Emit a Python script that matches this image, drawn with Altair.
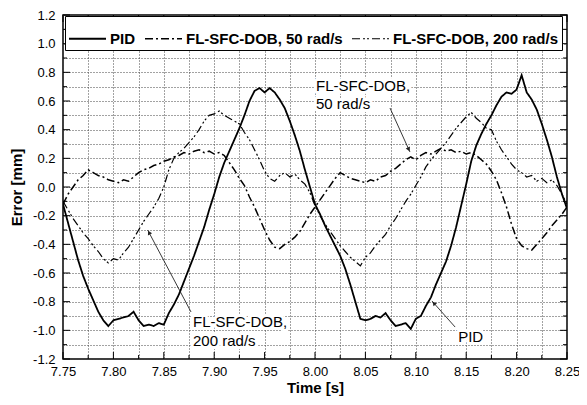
import math
import altair as alt
import pandas as pd

# ---------------- data ----------------
SERIES = ["PID", "FL-SFC-DOB, 50 rad/s", "FL-SFC-DOB, 200 rad/s"]

time_s = [round(7.75 + 0.005 * i, 3) for i in range(101)]

pid = [
    -0.12, -0.25, -0.38, -0.51, -0.62, -0.71, -0.79, -0.87, -0.93, -0.97,
    -0.93, -0.92, -0.91, -0.90, -0.87, -0.93, -0.97, -0.96, -0.97, -0.95,
    -0.96, -0.88, -0.82, -0.75, -0.66, -0.57, -0.48, -0.38, -0.28, -0.16,
    -0.05, 0.07, 0.17, 0.25, 0.33, 0.41, 0.50, 0.60, 0.67, 0.69,
    0.66, 0.69, 0.66, 0.61, 0.55, 0.46, 0.36, 0.25, 0.12, 0.00,
    -0.12, -0.19, -0.27, -0.34, -0.41, -0.48, -0.57, -0.68, -0.80, -0.92,
    -0.93, -0.92, -0.90, -0.91, -0.88, -0.93, -0.97, -0.96, -0.95, -0.99,
    -0.92, -0.90, -0.83, -0.77, -0.68, -0.60, -0.52, -0.41, -0.28, -0.13,
    0.02, 0.18, 0.29, 0.37, 0.44, 0.50, 0.57, 0.63, 0.66, 0.65,
    0.68, 0.78, 0.66, 0.61, 0.54, 0.44, 0.33, 0.21, 0.07, -0.05,
    -0.15,
]

dob50 = [
    -0.12, -0.05, 0.00, 0.05, 0.08, 0.12, 0.10, 0.08, 0.07, 0.05,
    0.04, 0.03, 0.05, 0.04, 0.07, 0.10, 0.12, 0.13, 0.15, 0.16,
    0.18, 0.19, 0.21, 0.22, 0.24, 0.23, 0.25, 0.26, 0.24, 0.25,
    0.23, 0.24, 0.22, 0.17, 0.12, 0.06, 0.01, -0.07, -0.14, -0.22,
    -0.30, -0.37, -0.42, -0.43, -0.40, -0.38, -0.35, -0.31, -0.25, -0.19,
    -0.14, -0.09, -0.04, 0.01, 0.06, 0.10, 0.08, 0.06, 0.05, 0.04,
    0.03, 0.05, 0.04, 0.07, 0.08, 0.11, 0.13, 0.16, 0.19, 0.21,
    0.19, 0.22, 0.24, 0.23, 0.25, 0.27, 0.25, 0.26, 0.24, 0.25,
    0.23, 0.24, 0.22, 0.19, 0.16, 0.11, 0.05, -0.04, -0.14, -0.26,
    -0.36, -0.41, -0.43, -0.44, -0.40, -0.36, -0.32, -0.27, -0.23, -0.19,
    -0.14,
]

dob200 = [
    -0.10, -0.16, -0.22, -0.27, -0.32, -0.36, -0.41, -0.45, -0.50, -0.53,
    -0.50, -0.51, -0.46, -0.42, -0.36, -0.30, -0.24, -0.19, -0.14, -0.08,
    0.00, 0.12, 0.20, 0.24, 0.27, 0.31, 0.35, 0.40, 0.46, 0.50,
    0.51, 0.53, 0.50, 0.48, 0.46, 0.44, 0.38, 0.33, 0.26, 0.19,
    0.11, 0.06, 0.04, 0.08, 0.10, 0.07, 0.09, 0.05, 0.02, -0.04,
    -0.13, -0.20, -0.26, -0.31, -0.36, -0.41, -0.45, -0.49, -0.52, -0.55,
    -0.49, -0.46, -0.41, -0.37, -0.33, -0.27, -0.22, -0.16, -0.10, -0.05,
    0.01, 0.07, 0.14, 0.19, 0.23, 0.27, 0.31, 0.36, 0.41, 0.45,
    0.49, 0.52, 0.48, 0.45, 0.41, 0.40, 0.32, 0.26, 0.21, 0.16,
    0.12, 0.10, 0.07, 0.08, 0.04, 0.06, 0.03, 0.05, 0.01, -0.05,
    -0.12,
]

x_ticks_major = [7.75, 7.80, 7.85, 7.90, 7.95, 8.00, 8.05, 8.10, 8.15, 8.20, 8.25]
x_ticks_minor = [7.775, 7.825, 7.875, 7.925, 7.975, 8.025, 8.075, 8.125, 8.175, 8.225]
y_ticks_major = [-1.2, -1.0, -0.8, -0.6, -0.4, -0.2, 0.0, 0.2, 0.4, 0.6, 0.8, 1.0, 1.2]
y_ticks_minor = [-1.1, -0.9, -0.7, -0.5, -0.3, -0.1, 0.1, 0.3, 0.5, 0.7, 0.9, 1.1]

ann_text = ["FL-SFC-DOB,", "50 rad/s", "FL-SFC-DOB,", "200 rad/s", "PID"]
ann_t = [8.001, 8.001, 7.879, 7.879, 8.142]
ann_e = [0.670, 0.544, -0.977, -1.109, -1.081]

arrow_t_tail = [8.0744, 7.877, 8.139]
arrow_e_tail = [0.551, -0.872, -0.977]
arrow_t_head = [8.0942, 7.834, 8.116]
arrow_e_head = [0.244, -0.300, -0.795]

# ---------------- layout ----------------
W, H = 504, 344
T0, T1 = 7.75, 8.25
E0, E1 = -1.2, 1.2
PX_T = W / (T1 - T0)
PX_E = H / (E1 - E0)
FONT = "Liberation Sans"

rows = []
for name, vals in zip(SERIES, [pid, dob50, dob200]):
    for t, e in zip(time_s, vals):
        rows.append({"t": t, "e": e, "series": name})
df = pd.DataFrame(rows)

xscale = alt.Scale(domain=[T0, T1], nice=False, zero=False)
yscale = alt.Scale(domain=[E0, E1], nice=False, zero=False)

x_vals = sorted(x_ticks_major + x_ticks_minor)
y_vals = sorted(y_ticks_major + y_ticks_minor)

xaxis = alt.Axis(
    values=x_vals,
    labelExpr="abs(round(datum.value*1000) % 50) == 0 ? format(datum.value, '.2f') : ''",
    title="Time [s]", titleFontSize=15, titleFontWeight="bold", titleColor="black",
    titleFont=FONT, titleBaseline="alphabetic", titleY=33,
    labelFont=FONT, labelFontSize=13, labelColor="black", labelPadding=6,
    labelFlush=False, labelOverlap=False, labelBound=False,
    grid=True, gridDash=[1, 2], gridColor="#444", gridWidth=1,
    ticks=False, domain=False,
)
yaxis = alt.Axis(
    values=y_vals,
    labelExpr="abs(round(datum.value*10)) % 2 == 0 ? ((datum.value < -0.001 ? '-' : '') + format(abs(datum.value), '.1f')) : ''",
    title="Error [mm]", titleFontSize=15, titleFontWeight="bold", titleColor="black",
    titleFont=FONT, titlePadding=8,
    labelFont=FONT, labelFontSize=13, labelColor="black", labelPadding=8,
    labelFlush=False, labelOverlap=False, labelBound=False,
    grid=True, gridDash=[1, 2], gridColor="#444", gridWidth=1,
    ticks=False, domain=False,
)


def X(field):
    return alt.X(field, scale=xscale, axis=xaxis)


def Y(field):
    return alt.Y(field, scale=yscale, axis=yaxis)


lines = alt.Chart(df).mark_line(color="black", clip=True).encode(
    x=X("t:Q"),
    y=Y("e:Q"),
    strokeDash=alt.StrokeDash(
        "series:N",
        scale=alt.Scale(domain=SERIES, range=[[1, 0], [8, 3, 2, 3], [8, 3, 2, 2, 2, 3]]),
        legend=alt.Legend(
            title=None, orient="none", legendX=2, legendY=1, direction="horizontal",
            columns=3, symbolType="stroke", symbolSize=1369, symbolStrokeWidth=1.5,
            symbolStrokeColor="black", labelFont=FONT, labelFontSize=15,
            labelFontWeight="bold", labelColor="black", labelLimit=300,
            labelOffset=3, columnPadding=6, padding=3, fillColor="white",
            strokeColor="black",
        ),
    ),
    strokeWidth=alt.StrokeWidth(
        "series:N", scale=alt.Scale(domain=SERIES, range=[1.8, 1.2, 1.2]), legend=None
    ),
)

# inward ticks on all four sides
xmaj = pd.DataFrame({"t": x_ticks_major})
xmin = pd.DataFrame({"t": x_ticks_minor})
ymaj = pd.DataFrame({"e": y_ticks_major})
ymin = pd.DataFrame({"e": y_ticks_minor})

tick_layers = []
for d, L in [(xmaj, 7), (xmin, 4)]:
    tick_layers.append(alt.Chart(d).mark_rule(color="black", strokeWidth=1).encode(
        x=X("t:Q"), y=alt.value(H), y2=alt.value(H - L)))
    tick_layers.append(alt.Chart(d).mark_rule(color="black", strokeWidth=1).encode(
        x=X("t:Q"), y=alt.value(0), y2=alt.value(L)))
for d, L in [(ymaj, 7), (ymin, 4)]:
    tick_layers.append(alt.Chart(d).mark_rule(color="black", strokeWidth=1).encode(
        y=Y("e:Q"), x=alt.value(0), x2=alt.value(L)))
    tick_layers.append(alt.Chart(d).mark_rule(color="black", strokeWidth=1).encode(
        y=Y("e:Q"), x=alt.value(W), x2=alt.value(W - L)))

# annotations
ann = pd.DataFrame({"t": ann_t, "e": ann_e, "label": ann_text})
halo = alt.Chart(ann).mark_text(
    align="left", baseline="alphabetic", font=FONT, fontSize=15,
    color="white", stroke="white", strokeWidth=6, strokeJoin="round",
).encode(x=X("t:Q"), y=Y("e:Q"), text="label:N")
text = alt.Chart(ann).mark_text(
    align="left", baseline="alphabetic", font=FONT, fontSize=15, color="black",
).encode(x=X("t:Q"), y=Y("e:Q"), text="label:N")

arr_rows = []
for tt, et, th, eh in zip(arrow_t_tail, arrow_e_tail, arrow_t_head, arrow_e_head):
    dx = (th - tt) * PX_T
    dy = -(eh - et) * PX_E
    L = math.hypot(dx, dy)
    ang = math.degrees(math.atan2(dx, -dy)) % 360
    back = 3.0
    hx = th - (dx / L) * back / PX_T
    hy = eh + (dy / L) * back / PX_E
    arr_rows.append({"t": tt, "e": et, "t2": th, "e2": eh, "ht": hx, "he": hy, "ang": ang})
arr = pd.DataFrame(arr_rows)

arrow_lines = alt.Chart(arr).mark_rule(color="#222", strokeWidth=0.9).encode(
    x=X("t:Q"), y=Y("e:Q"), x2="t2:Q", y2="e2:Q")
arrow_heads = alt.Chart(arr).mark_point(
    shape="triangle-up", filled=True, color="#222", size=22, opacity=1
).encode(
    x=X("ht:Q"), y=Y("he:Q"),
    angle=alt.Angle("ang:Q", scale=None),
)

chart = alt.layer(
    lines, *tick_layers, arrow_lines, arrow_heads, halo, text
).properties(
    width=W, height=H,
    autosize=alt.AutoSizeParams(type="none"),
    padding={"left": 55, "top": 7, "right": 12, "bottom": 38},
).configure(font=FONT).configure_view(stroke="black", strokeWidth=1.5)

chart.save("out.html", embed_options={"renderer": "svg", "actions": False})
